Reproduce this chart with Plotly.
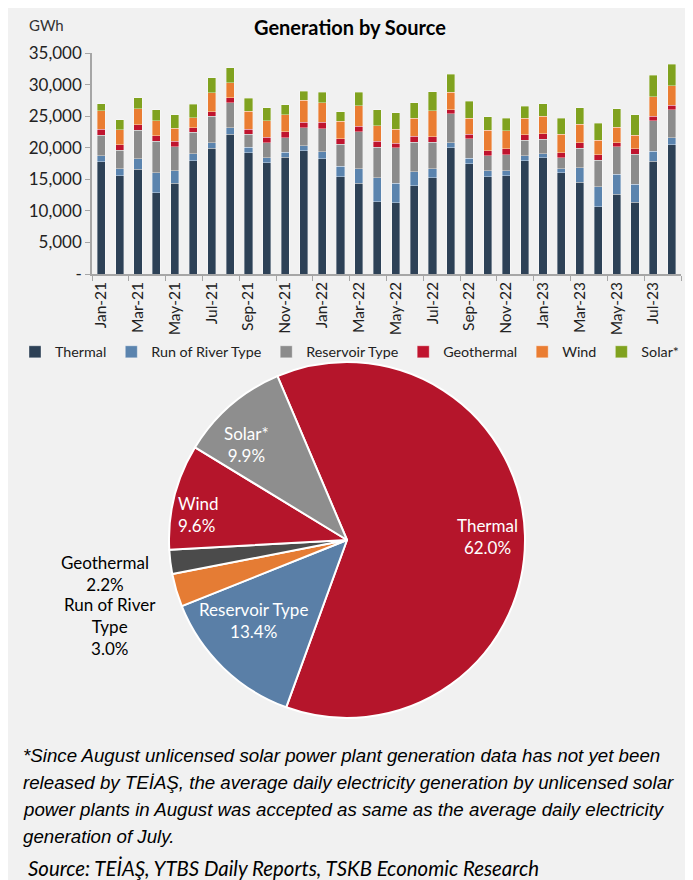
import plotly.graph_objects as go

months = ["Jan-21","Feb-21","Mar-21","Apr-21","May-21","Jun-21","Jul-21","Aug-21",
          "Sep-21","Oct-21","Nov-21","Dec-21","Jan-22","Feb-22","Mar-22","Apr-22",
          "May-22","Jun-22","Jul-22","Aug-22","Sep-22","Oct-22","Nov-22","Dec-22",
          "Jan-23","Feb-23","Mar-23","Apr-23","May-23","Jun-23","Jul-23","Aug-23"]

thermal = [17800,15600,16600,12900,14400,17950,19950,22150,19200,17600,18500,19500,
           18250,15400,14400,11450,11300,14000,15250,20000,17500,15400,15600,17950,
           18450,16000,14500,10650,12600,11400,17850,20450]
run_of_river = [950,1050,1650,3100,1950,1100,850,1000,900,850,750,800,
                1100,1650,2300,3800,3050,2200,1400,800,850,950,750,800,
                600,700,2350,3200,3200,2850,1600,1150]
reservoir = [3250,2950,4500,5050,3800,3400,4200,3950,2000,2350,2350,2900,
             3650,3500,5850,4850,5650,4700,4200,4550,3100,2350,2550,2450,
             2300,1700,3100,4150,4350,4700,4850,4450]
geothermal = [950,900,900,850,900,700,700,800,850,850,900,850,
              1000,900,850,900,700,900,900,700,700,850,900,850,
              900,800,850,850,650,900,700,700]
wind = [2900,2350,2500,2350,2000,1600,3000,2400,2800,2600,2700,3500,
        3100,2750,3250,2500,2200,2900,4100,2700,2500,3250,2850,2600,
        2750,2950,2900,2350,2450,2150,3100,3050]
solar = [1100,1600,1750,1800,2150,2150,2350,2400,2050,2100,1600,1400,
         1650,1500,2100,2500,2600,2400,3050,2900,2700,2100,2000,1950,
         1950,2500,2650,2700,2950,3200,3350,3400]

series_names = ["Thermal", "Run of River Type", "Reservoir Type", "Geothermal", "Wind", "Solar*"]
series_values = [thermal, run_of_river, reservoir, geothermal, wind, solar]
series_colors = ["#2D4156", "#5B84AE", "#8C8C8C", "#C0142E", "#EA7D32", "#80A21F"]

y_tickvals = [0, 5000, 10000, 15000, 20000, 25000, 30000, 35000]
y_ticktext = ["-", "5,000", "10,000", "15,000", "20,000", "25,000", "30,000", "35,000"]

pie_labels = ["Thermal", "Reservoir Type", "Run of River Type", "Geothermal", "Wind", "Solar*"]
pie_values = [62.0, 13.4, 3.0, 2.2, 9.6, 9.9]
pie_colors = ["#B5152B", "#5A7FA7", "#E57C34", "#4B4B4B", "#B5152B", "#8E8E8E"]

footnote_lines = [
    "*Since August unlicensed solar power plant generation data has not yet been",
    "released by TEİAŞ, the average daily electricity generation by unlicensed solar",
    "power plants in August was accepted as same as the average daily electricity",
    "generation of July.",
]
source_text = "Source: TEİAŞ, YTBS Daily Reports, TSKB Economic Research"

# page body has an 8px margin: figure is 685x872 placed at (8, 8)
OFF = 8
W, H = 693 - OFF, 880 - OFF
def px(x):
    return (x - OFF) / W
def py(y):
    return 1 - (y - OFF) / H

FONT = "Lato"

fig = go.Figure()
for name, vals, col in zip(series_names, series_values, series_colors):
    fig.add_trace(go.Bar(
        x=months, y=vals, name=name,
        marker=dict(color=col, line=dict(color="rgba(255,255,255,0.6)", width=0.6)),
        xaxis="x", yaxis="y",
    ))

fig.add_trace(go.Pie(
    labels=pie_labels, values=pie_values, sort=False, direction="clockwise",
    rotation=-23,
    marker=dict(colors=pie_colors, line=dict(color="white", width=2)),
    textinfo="none",
    domain=dict(x=[px(347 - 178), px(347 + 178)], y=[py(540 + 178), py(540 - 178)]),
    showlegend=False, hoverinfo="label+value",
))

def ann(text, x, y, size, color="black", family=FONT, xanchor="center", align="center", **kw):
    d = dict(text=text, x=px(x), y=py(y), xref="paper", yref="paper", showarrow=False,
             font=dict(family=family, size=size, color=color, **kw),
             xanchor=xanchor, yanchor="middle", align=align)
    return d

annotations = [
    ann("Generation by Source", 350, 27, 20, weight="bold"),
    ann("GWh", 27, 25, 15, color="#333333", xanchor="left"),
    # pie labels
    ann("%s<br>%.1f%%" % (pie_labels[0], pie_values[0]), 487, 536, 17, color="white"),
    ann("%s<br>%.1f%%" % (pie_labels[1], pie_values[1]), 253, 620, 17, color="white"),
    ann("%s<br>%.1f%%" % (pie_labels[4], pie_values[4]), 176, 514, 17, color="white",
        xanchor="left", align="left"),
    ann("%s<br>%.1f%%" % (pie_labels[5], pie_values[5]), 247, 444, 17, color="white"),
    ann("Geothermal<br>%.1f%%" % pie_values[3], 105, 573, 17),
    ann("Run of River<br>Type<br>%.1f%%" % pie_values[2], 110, 626, 17),
]
for i, line in enumerate(footnote_lines):
    annotations.append(ann("<i>" + line + "</i>", 21, 755 + 27.3 * i, 18.7,
                           family="Liberation Sans", xanchor="left", align="left"))
annotations.append(ann("<i>" + source_text + "</i>", 26, 868, 20.4, xanchor="left", align="left"))

fig.update_layout(
    width=W, height=H,
    margin=dict(l=0, r=0, t=0, b=0),
    paper_bgcolor="white", plot_bgcolor="rgba(0,0,0,0)",
    barmode="stack", bargap=0.56,
    font=dict(family=FONT, color="#333333"),
    xaxis=dict(domain=[px(92), px(681)], type="category", showline=True,
               linecolor="#A6A6A6", linewidth=1.5, ticks="outside", ticklen=5,
               tickcolor="#A6A6A6", tickson="boundaries", dtick=2, tickangle=-90,
               tickfont=dict(size=15.5, color="#222222", family=FONT), showgrid=False,
               automargin=False, fixedrange=True),
    yaxis=dict(domain=[py(274), py(53)], range=[0, 35000], showline=True,
               linecolor="#A6A6A6", linewidth=1.5, ticks="outside", ticklen=5,
               tickcolor="#A6A6A6", tickvals=y_tickvals, ticktext=y_ticktext,
               tickfont=dict(size=17, color="#222222", family=FONT), showgrid=False,
               zeroline=False, automargin=False),
    legend=dict(orientation="h", x=px(15), y=py(352), xanchor="left", yanchor="middle",
                font=dict(size=14.3, family=FONT, color="#222222"), itemwidth=30,
                bgcolor="rgba(0,0,0,0)", traceorder="normal"),
    annotations=annotations,
    shapes=[dict(type="rect", xref="paper", yref="paper", x0=0, x1=px(687),
                 y0=0, y1=1, fillcolor="#F1F1F1", line=dict(width=0), layer="below")],
)

fig.write_html("out.html")
